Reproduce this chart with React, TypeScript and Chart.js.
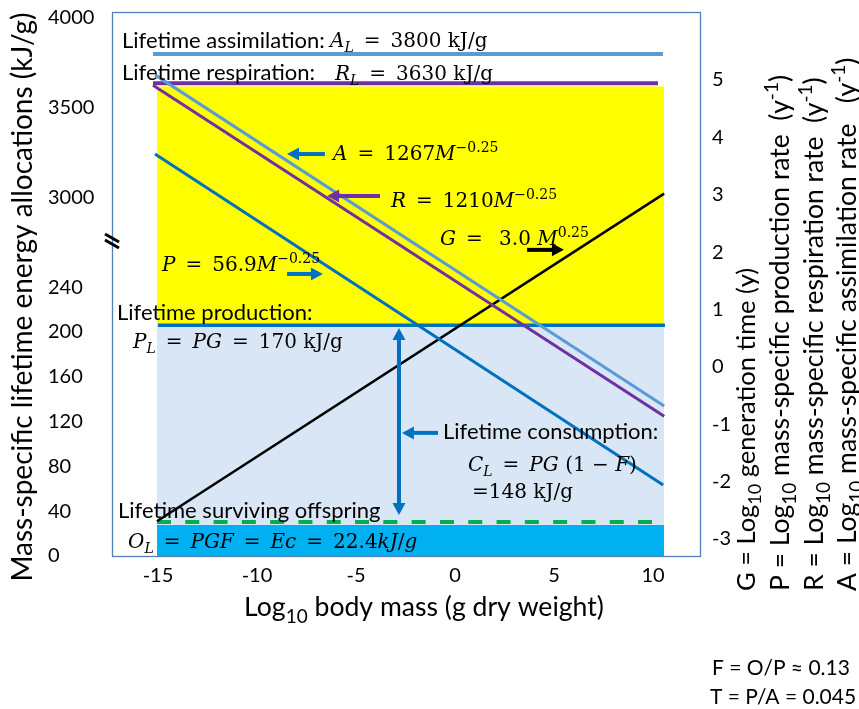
import React, { useEffect, useRef } from 'react';
import { Chart, registerables } from 'chart.js';

Chart.register(...registerables);

const SANS = 'Lato, "Open Sans", sans-serif';
const SERIF = '"DejaVu Serif", serif';

// ---- axis ticks ----
const xTicks = [-15, -10, -5, 0, 5, 10];
const lowTicks = [0, 40, 80, 120, 160, 200, 240];
const highTicks = [3000, 3500, 4000];
const rightTicks = [-3, -2, -1, 0, 1, 2, 3, 4, 5];

// ---- log10 rates / generation time vs log10 body mass (right axis) ----
const massA = [-15.15, 10.56];
const rateA = [5.09, -0.68];
const massR = [-15.25, 10.56];
const rateR = [4.91, -0.86];
const massP = [-15.15, 10.51];
const rateP = [3.71, -2.06];
const massG = [-15.05, 10.56];
const timeG = [-2.69, 3.02];

// ---- lifetime allocations, kJ/g (broken left axis) ----
const lifeAMass = [-15.25, 10.5];
const lifeA = [3800, 3800];
const lifeRMass = [-15.25, 10.25];
const lifeR = [3638, 3638];
const lifePMass = [-15.0, 10.6];
const lifeP = [206, 206];
const offspringMass = [-15.05, 10.35];
const offspringLine = [30.4, 30.4];
const bandMass = [-15.05, 10.56];
const offspringBand = [27.7, 27.7];
const consumptionBand = [206, 206];
const respirationBand = [3620, 3620];

const pts = (xs: number[], ys: number[]) => xs.map((x, i) => ({ x, y: ys[i] }));

type Seg = [string, string];

function rich(ctx: CanvasRenderingContext2D, segs: Seg[], x: number, y: number, size: number, family: string, draw = true) {
  let cx = x;
  for (const [t, f] of segs) {
    const small = f.includes('b') || f.includes('p');
    const fs = small ? Math.round(size * 0.7) : size;
    ctx.font = `${f.includes('i') ? 'italic ' : ''}${fs}px ${family}`;
    const dy = f.includes('p') ? -size * 0.42 : f.includes('b') ? size * 0.25 : 0;
    if (draw) ctx.fillText(t, cx, y + dy);
    cx += ctx.measureText(t).width;
  }
  return cx - x;
}

function arrow(ctx: CanvasRenderingContext2D, x1: number, y1: number, x2: number, y2: number, color: string, w: number, both: boolean) {
  const ang = Math.atan2(y2 - y1, x2 - x1);
  const L = 12, Hw = 6.5;
  const c = Math.cos(ang), s = Math.sin(ang);
  ctx.strokeStyle = color;
  ctx.fillStyle = color;
  ctx.lineWidth = w;
  ctx.beginPath();
  ctx.moveTo(both ? x1 + c * (L - 1) : x1, both ? y1 + s * (L - 1) : y1);
  ctx.lineTo(x2 - c * (L - 1), y2 - s * (L - 1));
  ctx.stroke();
  const head = (hx: number, hy: number, hc: number, hs: number) => {
    ctx.beginPath();
    ctx.moveTo(hx, hy);
    ctx.lineTo(hx - hc * L - hs * Hw, hy - hs * L + hc * Hw);
    ctx.lineTo(hx - hc * L + hs * Hw, hy - hs * L - hc * Hw);
    ctx.closePath();
    ctx.fill();
  };
  head(x2, y2, c, s);
  if (both) head(x1, y1, -c, -s);
}

// annotation arrows in data units (x: log10 mass, y: right axis)
const arrowSpecs = [
  { x1: -6.57, y1: 3.71, x2: -8.48, y2: 3.71, color: '#0070C0', both: false },
  { x1: -3.79, y1: 2.98, x2: -6.46, y2: 2.98, color: '#7030A0', both: false },
  { x1: 3.64, y1: 2.04, x2: 5.5, y2: 2.04, color: '#000000', both: false },
  { x1: -8.48, y1: 1.62, x2: -6.67, y2: 1.62, color: '#0070C0', both: false },
  { x1: -2.83, y1: 0.68, x2: -2.83, y2: -2.58, color: '#0070C0', both: true },
  { x1: -0.86, y1: -1.15, x2: -2.68, y2: -1.15, color: '#0070C0', both: false },
];

const sansNotes: [string, number, number][] = [
  ['Lifetime assimilation:', 122, 48],
  ['Lifetime respiration:', 122, 80],
  ['Lifetime production:', 117, 320],
  ['Lifetime consumption:', 443, 439],
  ['Lifetime surviving offspring', 118, 518],
];

const E = '\u2002=\u2002';
const mathNotes: [Seg[], number, number][] = [
  [[['A', 'i'], ['L', 'ib'], [E + '3800 kJ/g', 'n']], 330, 47],
  [[['R', 'i'], ['L', 'ib'], [E + '3630 kJ/g', 'n']], 335, 79.5],
  [[['A', 'i'], [E + '1267', 'n'], ['M', 'i'], ['\u22120.25', 'p']], 333, 160],
  [[['R', 'i'], [E + '1210', 'n'], ['M', 'i'], ['\u22120.25', 'p']], 391, 207],
  [[['G', 'i'], [E + ' 3.0 ', 'n'], ['M', 'i'], ['0.25', 'p']], 440, 245],
  [[['P', 'i'], [E + '56.9', 'n'], ['M', 'i'], ['\u22120.25', 'p']], 162, 271],
  [[['P', 'i'], ['L', 'ib'], [E, 'n'], ['PG', 'i'], [E + '170 kJ/g', 'n']], 133, 348],
  [[['C', 'i'], ['L', 'ib'], [E, 'n'], ['PG', 'i'], [' (1 \u2212 ', 'n'], ['F', 'i'], [')', 'n']], 468, 471],
  [[['=148 kJ/g', 'n']], 472, 498],
  [[['O', 'i'], ['L', 'ib'], [E, 'n'], ['PGF', 'i'], [E, 'n'], ['Ec', 'i'], [E + '22.4', 'n'], ['kJ', 'i'], ['/', 'n'], ['g', 'i']], 128, 548],
];

const rightTitles: Seg[][] = [
  [['G = Log', 'n'], ['10', 'b'], [' generation time (y)', 'n']],
  [['P = Log', 'n'], ['10', 'b'], [' mass-specific production rate  (y', 'n'], ['-1', 'p'], [')', 'n']],
  [['R = Log', 'n'], ['10', 'b'], [' mass-specific respiration rate  (y', 'n'], ['-1', 'p'], [')', 'n']],
  [['A = Log', 'n'], ['10', 'b'], [' mass-specific assimilation rate   (y', 'n'], ['-1', 'p'], [')', 'n']],
];
const rightTitleSize = [25.5, 26.5, 26.5, 26.5];
const rightTitleBase = [755, 789, 823, 856];

const decor = {
  id: 'decor',
  beforeDatasetsDraw(chart: any) {
    const { ctx, chartArea: a } = chart;
    ctx.save();
    ctx.strokeStyle = '#4F81BD';
    ctx.lineWidth = 1.3;
    ctx.strokeRect(a.left + 0.5, a.top + 0.5, a.right - a.left, a.bottom - a.top);
    ctx.restore();
  },
  afterDatasetsDraw(chart: any) {
    const { ctx, chartArea: a } = chart;
    const sx = chart.scales.x, sr = chart.scales.yR;
    ctx.save();
    for (const s of arrowSpecs) {
      arrow(ctx, sx.getPixelForValue(s.x1), sr.getPixelForValue(s.y1), sx.getPixelForValue(s.x2), sr.getPixelForValue(s.y2), s.color, 4, s.both);
    }
    ctx.fillStyle = '#000';
    ctx.textBaseline = 'alphabetic';
    ctx.textAlign = 'left';
    for (const [t, x, y] of sansNotes) {
      ctx.font = `22px ${SANS}`;
      ctx.fillText(t, x, y);
    }
    for (const [segs, x, y] of mathNotes) rich(ctx, segs, x, y, 20, SERIF);

    // axis break mark
    ctx.strokeStyle = '#000';
    ctx.lineWidth = 3;
    const bx = a.left, by = 241;
    for (const off of [-3, 3]) {
      ctx.beginPath();
      ctx.moveTo(bx - 7, by + off - 4);
      ctx.lineTo(bx + 7, by + off + 4);
      ctx.stroke();
    }
    ctx.restore();
  },
  afterDraw(chart: any) {
    const { ctx } = chart;
    const yH = chart.scales.yHigh, yL = chart.scales.yLow;
    ctx.save();
    ctx.fillStyle = '#000';
    // upper part of broken axis
    ctx.font = `20px ${SANS}`;
    ctx.textAlign = 'left';
    ctx.textBaseline = 'middle';
    for (const v of highTicks) ctx.fillText(String(v), yL.left, yH.getPixelForValue(v));

    ctx.textBaseline = 'alphabetic';
    // left title
    ctx.save();
    ctx.translate(32, 297);
    ctx.rotate(-Math.PI / 2);
    ctx.textAlign = 'center';
    ctx.font = `28px ${SANS}`;
    ctx.fillText('Mass-specific lifetime energy allocations (kJ/g)', 0, 0);
    ctx.restore();

    // x title
    const xt: Seg[] = [['Log', 'n'], ['10', 'b'], [' body mass (g dry weight)', 'n']];
    const w = rich(ctx, xt, 0, 0, 26.6, SANS, false);
    rich(ctx, xt, 424 - w / 2, 616, 26.6, SANS);

    // right titles
    rightTitles.forEach((segs, i) => {
      ctx.save();
      ctx.translate(rightTitleBase[i], 591);
      ctx.rotate(-Math.PI / 2);
      rich(ctx, segs, 0, 0, rightTitleSize[i], SANS);
      ctx.restore();
    });

    ctx.font = `21px ${SANS}`;
    ctx.fillText('F = O/P \u2248 0.13', 712, 675);
    ctx.fillText('T = P/A = 0.045', 710, 704);
    ctx.restore();
  },
};

const tickFont = { family: SANS, size: 20 };

export default function App() {
  const ref = useRef<HTMLCanvasElement>(null);
  useEffect(() => {
    document.body.style.margin = '0';
    const canvas = ref.current!;
    const line = (data: any, yAxisID: string, color: string, width: number, order: number, extra: any = {}) => ({
      data, yAxisID, borderColor: color, borderWidth: width, showLine: true, pointRadius: 0, fill: false, order, ...extra,
    });
    const chart = new Chart(canvas, {
      type: 'scatter',
      data: {
        datasets: [
          line(pts(bandMass, offspringBand), 'yLow', 'rgba(0,0,0,0)', 0, 30, { fill: 'origin', backgroundColor: '#00B0F0' }),
          line(pts(bandMass, consumptionBand), 'yLow', 'rgba(0,0,0,0)', 0, 29, { fill: 0, backgroundColor: '#D9E6F5' }),
          line(pts(bandMass, respirationBand), 'yHigh', 'rgba(0,0,0,0)', 0, 28, { fill: 1, backgroundColor: '#FFFF00' }),
          line(pts(offspringMass, offspringLine), 'yLow', '#00B050', 4, 12, { borderDash: [14, 14.3] }),
          line(pts(lifePMass, lifeP), 'yLow', '#0070C0', 3.5, 11),
          line(pts(lifeAMass, lifeA), 'yHigh', '#5B9BD5', 4, 10),
          line(pts(lifeRMass, lifeR), 'yHigh', '#7030A0', 4, 9),
          line(pts(massG, timeG), 'yR', '#000000', 2.5, 5),
          line(pts(massP, rateP), 'yR', '#0070C0', 3, 4),
          line(pts(massR, rateR), 'yR', '#7030A0', 3, 3),
          line(pts(massA, rateA), 'yR', '#5B9BD5', 3, 2),
        ],
      },
      options: {
        responsive: false,
        animation: false,
        devicePixelRatio: 1,
        layout: { padding: { left: 48, top: 12, right: 0, bottom: 0 } },
        plugins: { legend: { display: false }, tooltip: { enabled: false } },
        scales: {
          x: {
            type: 'linear', position: 'bottom', min: -17.32, max: 12.37,
            grid: { display: false, drawTicks: false }, border: { display: false },
            ticks: { font: tickFont, color: '#000', padding: 8, stepSize: 5, includeBounds: false },
            afterBuildTicks: (s: any) => { s.ticks = xTicks.map((v) => ({ value: v })); },
            afterFit: (s: any) => { s.height = 153; s.paddingLeft = 0; s.paddingRight = 0; },
          },
          yLow: {
            type: 'linear', position: 'left', min: 0, max: 485.7,
            grid: { display: false, drawTicks: false }, border: { display: false },
            ticks: { font: tickFont, color: '#000', crossAlign: 'far', includeBounds: false },
            afterBuildTicks: (s: any) => { s.ticks = lowTicks.map((v) => ({ value: v })); },
            afterFit: (s: any) => { s.width = 64; s.paddingTop = 0; s.paddingBottom = 0; },
          },
          yHigh: {
            type: 'linear', position: 'left', display: false, min: 1011.1, max: 4033.3,
            grid: { display: false },
          },
          yR: {
            type: 'linear', position: 'right', min: -3.296, max: 6.186,
            grid: { display: false, drawTicks: false }, border: { display: false },
            ticks: { font: tickFont, color: '#000', padding: 12, stepSize: 1, includeBounds: false },
            afterBuildTicks: (s: any) => { s.ticks = rightTicks.map((v) => ({ value: v })); },
            afterFit: (s: any) => { s.width = 159; s.paddingTop = 0; s.paddingBottom = 0; },
          },
        },
      } as any,
      plugins: [decor],
    });
    return () => chart.destroy();
  }, []);
  return (
    <div style={{ width: 859, height: 709 }}>
      <canvas ref={ref} width={859} height={709} style={{ display: 'block' }} />
    </div>
  );
}
